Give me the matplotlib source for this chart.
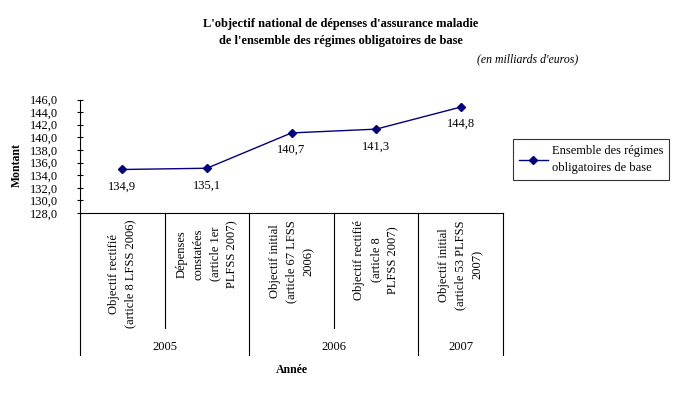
import matplotlib.pyplot as plt
from matplotlib.lines import Line2D
from matplotlib.transforms import blended_transform_factory

plt.rcParams['font.family'] = ['Liberation Serif', 'DejaVu Serif']

# data
categories = ['Objectif rectifié\n(article 8 LFSS 2006)',
              'Dépenses\nconstatées\n(article 1er\nPLFSS 2007)',
              'Objectif initial\n(article 67 LFSS\n2006)',
              'Objectif rectifié\n(article 8\nPLFSS 2007)',
              'Objectif initial\n(article 53 PLFSS\n2007)']
values = [134.9, 135.1, 140.7, 141.3, 144.8]
years = ['2005', '2006', '2007']
year_spans = [(0, 2), (2, 4), (4, 5)]
series_name = 'Ensemble des régimes\nobligatoires de base'
navy = '#000080'

W, H = 683, 398
fig = plt.figure(figsize=(W / 100, H / 100), dpi=100)
ax = fig.add_axes([80 / W, 1 - 213 / H, 423 / W, 113.5 / H])

x = [i + 0.5 for i in range(len(values))]
ax.plot(x, values, color=navy, lw=1, marker='D', ms=4, label=series_name)
for xi, v in zip(x, values):
    ax.annotate(f'{v:.1f}'.replace('.', ','), (xi, v), xytext=(0, -8),
                textcoords='offset points', ha='center', va='top', fontsize=9)

ax.set_xlim(0, len(values))
ax.set_ylim(128, 146)
ax.set_yticks(range(128, 147, 2))
ax.set_yticklabels([f'{t},0' for t in range(128, 147, 2)], fontsize=9)
ax.tick_params(axis='y', direction='inout', length=5, width=0.8, pad=13)
ax.set_xticks([])
for s in ['top', 'right']:
    ax.spines[s].set_visible(False)
for s in ['left', 'bottom']:
    ax.spines[s].set_linewidth(0.8)

# hierarchical category axis below the plot
blend = blended_transform_factory(ax.transData, fig.transFigure)
outer = [0, 2, 4, 5]
for b in range(len(values) + 1):
    bottom = 1 - 355 / H if b in outer else 1 - 328 / H
    ax.add_line(Line2D([b, b], [1 - 213 / H, bottom], transform=blend,
                       color='black', lw=0.8, clip_on=False))
for xi, lab in zip(x, categories):
    fig.text(xi, 1 - 220 / H, lab, transform=blend, rotation=90, ha='center',
             va='top', multialignment='center', fontsize=9, linespacing=1.55)
for yr, (a, b) in zip(years, year_spans):
    fig.text((a + b) / 2, 1 - 347 / H, yr, transform=blend, ha='center',
             va='center', fontsize=9)

fig.text(17 / W, 1 - 165 / H, 'Montant', rotation=90, ha='center', va='center',
         fontsize=8.5, fontweight='bold')
fig.text(292 / W, 1 - 370 / H, 'Année', ha='center', va='center',
         fontsize=8.5, fontweight='bold')

fig.text(341 / W, 1 - 24 / H, "L'objectif national de dépenses d'assurance maladie",
         ha='center', va='center', fontsize=9, fontweight='bold')
fig.text(341 / W, 1 - 41 / H, "de l'ensemble des régimes obligatoires de base",
         ha='center', va='center', fontsize=9, fontweight='bold')
fig.text(578 / W, 1 - 59 / H, "(en milliards d'euros)", ha='right', va='center',
         fontsize=8.5, style='italic')

leg = fig.legend(loc='center', bbox_to_anchor=(591 / W, 1 - 159.5 / H),
                 fontsize=9, frameon=True, fancybox=False, handlelength=2.3,
                 borderpad=0.5, handletextpad=0.3, edgecolor='black')
leg.get_frame().set_linewidth(0.8)
for t in leg.get_texts():
    t.set_linespacing(1.5)

fig.savefig('out.png', dpi=100)
